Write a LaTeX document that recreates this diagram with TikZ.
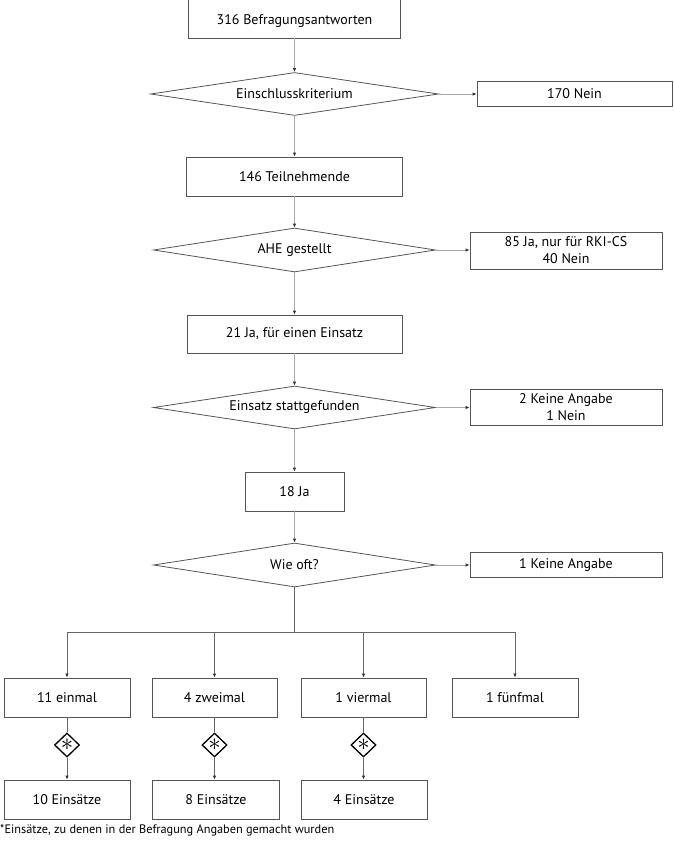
\documentclass[tikz,border=0pt]{standalone}
\usepackage{fontspec}
\setmainfont{PT Sans}
\usetikzlibrary{shapes.geometric,arrows.meta}
\definecolor{frame}{HTML}{555555}
\definecolor{link}{HTML}{A8A8A8}
\definecolor{linkdark}{HTML}{666666}
\tikzset{
  box/.style={draw=frame, line width=0.8pt, inner sep=0pt, align=center,
    font=\fontsize{14}{17}\selectfont},
  decision/.style={draw=frame, line width=0.8pt, diamond, aspect=6, inner sep=0pt,
    font=\fontsize{14}{17}\selectfont},
  marker/.style={draw=black, line width=1.3pt, diamond, inner sep=0pt,
    minimum width=25pt, minimum height=24pt, font=\fontsize{24}{24}\selectfont},
  flow/.style={draw=link, line width=0.9pt, -{Latex[length=4pt,width=3.5pt,color=black!80]}},
  flowdark/.style={draw=linkdark, line width=0.9pt, -{Latex[length=4pt,width=3.5pt,color=black!80]}},
  plain/.style={draw=linkdark, line width=0.9pt},
}
\begin{document}
\begin{tikzpicture}[x=1pt,y=-1pt]
\useasboundingbox (0,0) rectangle (673,841);

% main column
\node[box, minimum width=212pt, minimum height=42pt] (b1) at (294.5,17) {};
\node[font=\fontsize{14}{17}\selectfont, inner sep=0pt] (b1t) at (294.5,21) {316 Befragungsantworten};
\node[decision, minimum width=288pt, minimum height=43pt] (d1) at (294.5,94) {Einschlusskriterium};
\node[box, minimum width=216pt, minimum height=39pt] (b146) at (294.5,176.5) {146 Teilnehmende};
\node[decision, minimum width=282pt, minimum height=44pt] (d2) at (294.5,250) {AHE gestellt};
\node[box, minimum width=215pt, minimum height=38pt] (b21) at (294.5,334) {21 Ja, für einen Einsatz};
\node[decision, minimum width=282pt, minimum height=43pt] (d3) at (294.5,407.5) {Einsatz stattgefunden};
\node[box, minimum width=99pt, minimum height=39pt] (b18) at (294.5,491.5) {18 Ja};
\node[decision, minimum width=282pt, minimum height=44pt] (d4) at (294.5,565) {Wie oft?};

% side column
\node[box, minimum width=195pt, minimum height=25pt] (n170) at (574.5,93.5) {170 Nein};
\node[box, minimum width=192pt, minimum height=37pt] (n85) at (566,250.5) {85 Ja, nur für RKI-CS\\40 Nein};
\node[box, minimum width=192pt, minimum height=36pt] (n2) at (566,407) {2 Keine Angabe\\1 Nein};
\node[box, minimum width=192pt, minimum height=25pt] (n1) at (566,564.5) {1 Keine Angabe};

% main column connectors
\draw[flow] (b1.south) -- (d1.north);
\draw[flow] (d1.south) -- (b146.north);
\draw[flow] (b146.south) -- (d2.north);
\draw[flow] (d2.south) -- (b21.north);
\draw[flow] (b21.south) -- (d3.north);
\draw[flow] (d3.south) -- (b18.north);
\draw[flow] (b18.south) -- (d4.north);

% side connectors
\draw[flow] (d1.east) -- (d1.east -| n170.west);
\draw[flow] (d2.east) -- (d2.east -| n85.west);
\draw[flow] (d3.east) -- (d3.east -| n2.west);
\draw[flow] (d4.east) -- (d4.east -| n1.west);

% frequency row
\node[box, minimum width=126pt, minimum height=39pt] (c1) at (67,697.5) {11 einmal};
\node[box, minimum width=125pt, minimum height=39pt] (c2) at (214.5,697.5) {4 zweimal};
\node[box, minimum width=125pt, minimum height=39pt] (c3) at (363.5,697.5) {1 viermal};
\node[box, minimum width=126pt, minimum height=39pt] (c4) at (515,697.5) {1 fünfmal};

\coordinate (split) at (294.5,632);
\draw[plain] (d4.south) -- (split);
\draw[plain] (split -| c1.north) -- (split -| c4.north);
\foreach \c in {c1,c2,c3,c4}
  \draw[flowdark] (split -| \c.north) -- (\c.north);

% markers and deployment counts
\node[marker] (m1) at (67,745) {$\ast$};
\node[marker] (m2) at (214.5,745) {$\ast$};
\node[marker] (m3) at (363.5,745) {$\ast$};

\node[box, minimum width=126pt, minimum height=39pt] (e1) at (67,799.5) {10 Einsätze};
\node[box, minimum width=127pt, minimum height=39pt] (e2) at (216,799.5) {8 Einsätze};
\node[box, minimum width=126pt, minimum height=39pt] (e3) at (364,799.5) {4 Einsätze};

\foreach \i in {1,2,3} {
  \draw[plain] (c\i.south) -- (m\i.north);
  \draw[flowdark] (m\i.south) -- (m\i.south |- e\i.north);
}

\node[anchor=west, inner sep=0pt, font=\fontsize{12.3}{14}\selectfont] (note) at (0,830)
  {*Einsätze, zu denen in der Befragung Angaben gemacht wurden};
\end{tikzpicture}
\end{document}
